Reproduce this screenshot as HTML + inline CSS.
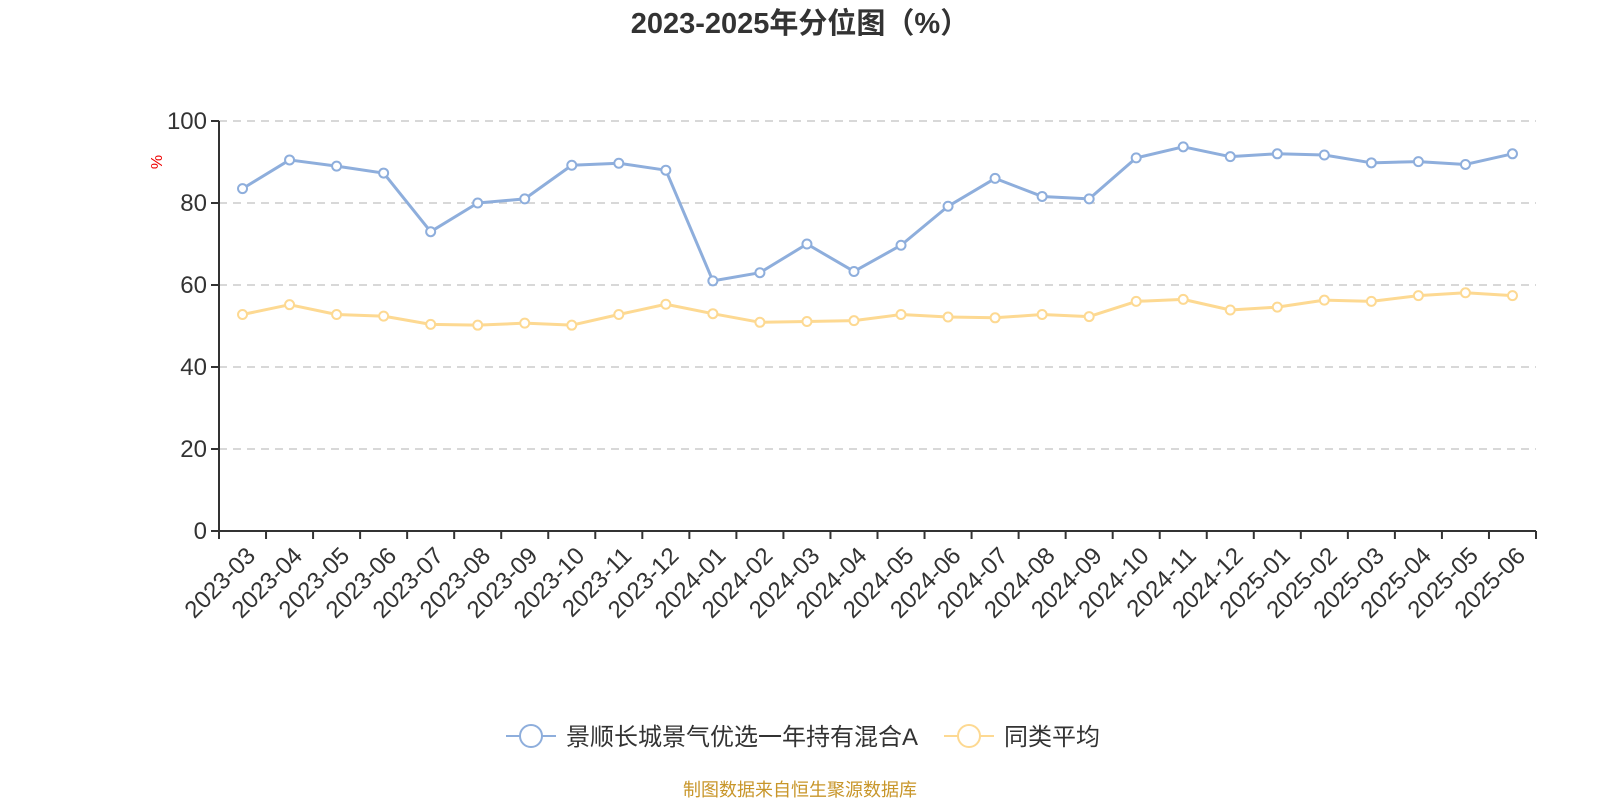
<!DOCTYPE html>
<html><head><meta charset="utf-8"><style>
html,body{margin:0;padding:0;background:#fff;width:1600px;height:800px;overflow:hidden}
svg{font-family:"Liberation Sans","Noto Sans CJK SC",sans-serif}
</style></head><body>
<svg id="c" width="1600" height="800">
<text x="800" y="33" text-anchor="middle" font-size="29" font-weight="bold" fill="#333">2023-2025年分位图（%）</text>
<text x="162" y="162" font-size="16" fill="#e00" transform="rotate(-90 162 162)" text-anchor="middle">%</text>
<g id="grid"></g><g id="axes"></g><g id="series"></g>
<g>
<g>
<line x1="506" y1="736" x2="556" y2="736" stroke="#8eaedc" stroke-width="2"/>
<circle cx="531" cy="736" r="11" fill="#fff" stroke="#8eaedc" stroke-width="2"/>
<text x="566" y="745" font-size="24" fill="#333">景顺长城景气优选一年持有混合A</text></g>
<g>
<line x1="944" y1="736" x2="994" y2="736" stroke="#fdd992" stroke-width="2"/>
<circle cx="969" cy="736" r="11" fill="#fff" stroke="#fdd992" stroke-width="2"/>
<text x="1004" y="745" font-size="24" fill="#333">同类平均</text></g>
</g>
<text x="800" y="796" text-anchor="middle" font-size="18" fill="#c8962a">制图数据来自恒生聚源数据库</text>
</svg>
<script>
const categories=["2023-03","2023-04","2023-05","2023-06","2023-07","2023-08","2023-09","2023-10","2023-11","2023-12","2024-01","2024-02","2024-03","2024-04","2024-05","2024-06","2024-07","2024-08","2024-09","2024-10","2024-11","2024-12","2025-01","2025-02","2025-03","2025-04","2025-05","2025-06"];
const fundValues=[83.5,90.5,89,87.3,73,80,81,89.2,89.7,88,61,63,70,63.3,69.7,79.2,86,81.6,81,91,93.7,91.3,92,91.7,89.8,90.1,89.4,92];
const avgValues=[52.8,55.2,52.8,52.4,50.4,50.2,50.7,50.2,52.8,55.3,53,50.9,51.1,51.3,52.8,52.2,52,52.8,52.3,56,56.5,53.9,54.6,56.3,56,57.4,58.1,57.4];
const yTicks=[0,20,40,60,80,100];
const NS="http://www.w3.org/2000/svg";
const X0=219,X1=1536,Y0=531,Y1=121;
const band=(X1-X0)/categories.length;
const xs=i=>X0+band*(i+0.5);
const ys=v=>Y0-(v/100)*(Y0-Y1);
function mk(t,a,p){const e=document.createElementNS(NS,t);for(const k in a)e.setAttribute(k,a[k]);p.appendChild(e);return e;}
const grid=document.getElementById('grid'),axes=document.getElementById('axes'),ser=document.getElementById('series');
yTicks.forEach(v=>{
 if(v>0){const g=mk('line',{x1:X0,x2:X1,y1:ys(v),y2:ys(v),stroke:'#ccc','stroke-dasharray':'8,6','stroke-width':1.5},grid);
 
 }
 const tk=mk('line',{x1:X0-8,x2:X0,y1:ys(v),y2:ys(v),stroke:'#333','stroke-width':2},axes);
 
 
 const t=mk('text',{x:X0-12,y:ys(v)+8,'text-anchor':'end','font-size':24,fill:'#333'},axes);
 t.textContent=v;
 
 
});
const ya=mk('line',{x1:X0,x2:X0,y1:Y1,y2:Y0,stroke:'#333','stroke-width':2},axes);


const xa=mk('line',{x1:X0,x2:X1,y1:Y0,y2:Y0,stroke:'#333','stroke-width':2},axes);


for(let i=0;i<=categories.length;i++){
 const tk=mk('line',{x1:X0+band*i,x2:X0+band*i,y1:Y0,y2:Y0+8,stroke:'#333','stroke-width':2},axes);
 
 
}
categories.forEach((c,i)=>{
 const x=xs(i)+4,y=Y0+16;
 const t=mk('text',{x:x,y:y,'text-anchor':'end','font-size':24,fill:'#333',transform:`rotate(-45 ${x} ${y})`,dy:'0.6em'},axes);
 t.textContent=c;
 
 
});
function line(vals,color,name){
 const p=mk('polyline',{points:vals.map((v,i)=>xs(i)+','+ys(v)).join(' '),fill:'none',stroke:color,'stroke-width':3,'stroke-linejoin':'round'},ser);
 
 
 vals.forEach((v,i)=>{const c=mk('circle',{cx:xs(i),cy:ys(v),r:4.5,fill:'#fff',stroke:color,'stroke-width':2},ser);
 
 });
}
line(avgValues,'#fdd992','average');
line(fundValues,'#8eaedc','fund');
</script>
</body></html>
